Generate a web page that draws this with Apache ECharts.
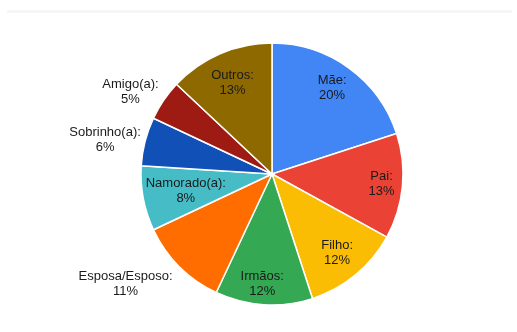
<!DOCTYPE html>
<html>
<head>
<meta charset="utf-8">
<script src="https://cdn.jsdelivr.net/npm/echarts@6/dist/echarts.min.js"></script>
<style>html,body{margin:0;padding:0;background:#fff;}#c{width:517px;height:332px;}</style>
</head>
<body>
<div id="c"></div>
<script>
var categories = ['Mãe', 'Pai', 'Filho', 'Irmãos', 'Esposa/Esposo', 'Namorado(a)', 'Sobrinho(a)', 'Amigo(a)', 'Outros'];
var values = [20, 13, 12, 12, 11, 8, 6, 5, 13];
var colors = ['#4285F4', '#EA4335', '#FBBC04', '#34A853', '#FF6D01', '#46BDC6', '#1151B7', '#9E1B13', '#8D6900'];
// label placement: radius factor (relative to pie radius) and angle shift in degrees
var labelRadius = [0.80, 0.84, 0.78, 0.84, 1.40, 0.67, 1.30, 1.25, 0.76];
var labelShift = [-1, 0, 0, 1.5, 8, 0, -3, -4, 0];

var CX = 272, CY = 174, R = 131;
var total = values.reduce(function (a, b) { return a + b; }, 0);
var mids = [];
(function () {
  var acc = 0;
  for (var i = 0; i < values.length; i++) {
    mids.push((acc + values[i] / 2) / total * 360);
    acc += values[i];
  }
})();

var chart = echarts.init(document.getElementById('c'), null, { renderer: 'canvas' });
chart.setOption({
  animation: false,
  backgroundColor: '#ffffff',
  graphic: [{
    type: 'rect',
    shape: { x: 7, y: 10, width: 505, height: 3 },
    style: { fill: '#f6f6f6' },
    silent: true
  }],
  series: [{
    type: 'pie',
    center: [CX, CY],
    radius: [0, R],
    startAngle: 90,
    clockwise: true,
    avoidLabelOverlap: false,
    itemStyle: { borderColor: '#ffffff', borderWidth: 1.5 },
    label: {
      show: true,
      position: 'inside',
      formatter: '{b}:\n{c}%',
      fontFamily: 'Liberation Sans, Arial, sans-serif',
      fontSize: 13,
      lineHeight: 15,
      color: '#1a1a1a',
      align: 'center'
    },
    labelLine: { show: false },
    labelLayout: function (p) {
      var i = p.dataIndex;
      var a = (mids[i] + labelShift[i]) * Math.PI / 180;
      var r = R * labelRadius[i];
      return {
        x: CX + r * Math.sin(a),
        y: CY - r * Math.cos(a),
        align: 'center',
        verticalAlign: 'middle'
      };
    },
    data: categories.map(function (c, i) {
      return { name: c, value: values[i], itemStyle: { color: colors[i] } };
    })
  }]
});
</script>
</body>
</html>
